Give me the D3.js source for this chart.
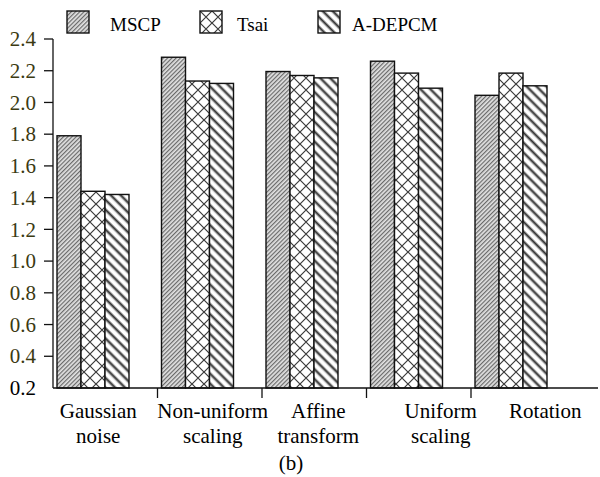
<!DOCTYPE html>
<html>
<head>
<meta charset="utf-8">
<script src="https://cdn.jsdelivr.net/npm/d3@7"></script>
<style>
  body { margin: 0; background: #fff; }
</style>
</head>
<body>
<div id="chart"></div>
<script>
  // data:
  var categories = ["Gaussian noise", "Non-uniform scaling", "Affine transform", "Uniform scaling", "Rotation"];
  var categoryLines = [["Gaussian", "noise"], ["Non-uniform", "scaling"], ["Affine", "transform"], ["Uniform", "scaling"], ["Rotation"]];
  var seriesNames = ["MSCP", "Tsai", "A-DEPCM"];
  var mscp = [1.79, 2.285, 2.195, 2.26, 2.045];
  var tsai = [1.44, 2.135, 2.17, 2.185, 2.185];
  var adepcm = [1.42, 2.12, 2.155, 2.09, 2.105];
  var yTicks = [0.2, 0.4, 0.6, 0.8, 1.0, 1.2, 1.4, 1.6, 1.8, 2.0, 2.2, 2.4];
  var caption = "(b)";

  // layout:
  var width = 600, height = 477;
  var axisLeft = 53, axisRight = 598, axisTop = 39, axisBottom = 388;
  var bandLeft = 53, bandRight = 575.5;
  var groupOffset = 4, barWidth = 24;
  var labelShift = [-7, 3, 4, 22, 22]; // text nudges of the category labels
  var legendX = [67, 200, 318];
  var tickColor = "#3b3a12";
  var serif = "'Liberation Serif', 'Times New Roman', Times, serif";

  var values = [mscp, tsai, adepcm];
  var patternIds = ["pat-mscp", "pat-tsai", "pat-adepcm"];

  var svg = d3.select("#chart").append("svg")
    .attr("width", width)
    .attr("height", height)
    .attr("font-family", serif);

  // fill patterns:
  var defs = svg.append("defs");
  var p1 = defs.append("pattern")
    .attr("id", "pat-mscp")
    .attr("patternUnits", "userSpaceOnUse")
    .attr("width", 3).attr("height", 10)
    .attr("patternTransform", "rotate(45)");
  p1.append("rect").attr("width", 3).attr("height", 10).attr("fill", "#e2e2e2");
  p1.append("rect").attr("width", 1.2).attr("height", 10).attr("fill", "#6a6a6a");

  var p2 = defs.append("pattern")
    .attr("id", "pat-tsai")
    .attr("patternUnits", "userSpaceOnUse")
    .attr("width", 12).attr("height", 12);
  p2.append("rect").attr("width", 12).attr("height", 12).attr("fill", "#fff");
  p2.append("path")
    .attr("d", "M0,0L12,12M12,0L0,12")
    .attr("stroke", "#3a3a3a").attr("stroke-width", 1.2);

  var p3 = defs.append("pattern")
    .attr("id", "pat-adepcm")
    .attr("patternUnits", "userSpaceOnUse")
    .attr("width", 7).attr("height", 10)
    .attr("patternTransform", "rotate(-45)");
  p3.append("rect").attr("width", 7).attr("height", 10).attr("fill", "#fff");
  p3.append("rect").attr("x", 1.6).attr("width", 3.4).attr("height", 10).attr("fill", "#b0b0b0");
  p3.append("rect").attr("x", 2.5).attr("width", 1.6).attr("height", 10).attr("fill", "#333");

  // scales:
  var y = d3.scaleLinear().domain([0.2, 2.4]).range([axisBottom, axisTop]);
  var x0 = d3.scaleBand().domain(categories).range([bandLeft, bandRight]);
  var x1 = d3.scaleBand().domain(seriesNames).range([0, barWidth * seriesNames.length]);

  // bars:
  seriesNames.forEach(function (s, si) {
    svg.append("g")
      .selectAll("rect")
      .data(categories)
      .join("rect")
      .attr("x", function (c) { return x0(c) + groupOffset + x1(s); })
      .attr("y", function (c, i) { return y(values[si][i]); })
      .attr("width", x1.bandwidth())
      .attr("height", function (c, i) { return y(0.2) - y(values[si][i]); })
      .attr("fill", "url(#" + patternIds[si] + ")")
      .attr("stroke", "#111")
      .attr("stroke-width", 1.4);
  });

  // y axis:
  var yAxisG = svg.append("g").attr("transform", "translate(" + axisLeft + ",0)");
  yAxisG.append("line")
    .attr("x1", 0).attr("x2", 0)
    .attr("y1", y(2.4)).attr("y2", y(0.2))
    .attr("stroke", "#111").attr("stroke-width", 1.3);
  var yt = yAxisG.selectAll("g.tick").data(yTicks).join("g")
    .attr("class", "tick")
    .attr("transform", function (d) { return "translate(0," + y(d) + ")"; });
  yt.filter(function (d) { return d > 0.2; }).append("line")
    .attr("x1", -9).attr("x2", 0)
    .attr("stroke", "#111").attr("stroke-width", 1.3);
  yt.append("text")
    .attr("x", -17)
    .attr("dy", "0.34em")
    .attr("text-anchor", "end")
    .attr("font-family", serif)
    .attr("font-size", 21)
    .attr("fill", function (d) { return d > 0.2 ? tickColor : "#000"; })
    .text(d3.format(".1f"));

  // x axis:
  var xAxisG = svg.append("g").attr("transform", "translate(0," + axisBottom + ")");
  xAxisG.append("line")
    .attr("x1", axisLeft).attr("x2", axisRight)
    .attr("stroke", "#111").attr("stroke-width", 1.3);
  xAxisG.selectAll("line.sep")
    .data(categories.slice(1))
    .join("line")
    .attr("class", "sep")
    .attr("x1", function (c) { return x0(c); })
    .attr("x2", function (c) { return x0(c); })
    .attr("y1", 0).attr("y2", 10)
    .attr("stroke", "#111").attr("stroke-width", 1.3);
  var xl = xAxisG.selectAll("text.cat")
    .data(categories)
    .join("text")
    .attr("class", "cat")
    .attr("text-anchor", "middle")
    .attr("font-family", serif)
    .attr("font-size", 21)
    .attr("fill", "#000")
    .attr("x", function (c, i) { return x0(c) + x0.bandwidth() / 2 + labelShift[i]; })
    .attr("y", 30);
  xl.selectAll("tspan")
    .data(function (c, i) { return categoryLines[i]; })
    .join("tspan")
    .attr("x", function () { return d3.select(this.parentNode).attr("x"); })
    .attr("dy", function (d, i) { return i === 0 ? 0 : 25; })
    .text(function (d) { return d; });

  // caption:
  svg.append("text")
    .attr("x", 291)
    .attr("y", 470)
    .attr("text-anchor", "middle")
    .attr("font-family", serif)
    .attr("font-size", 21)
    .text(caption);

  // legend:
  var legendG = svg.append("g");
  seriesNames.forEach(function (s, si) {
    var itemG = legendG.append("g").attr("transform", "translate(" + legendX[si] + ",11)");
    itemG.append("rect")
      .attr("width", 22).attr("height", 22)
      .attr("fill", "url(#" + patternIds[si] + ")")
      .attr("stroke", "#111").attr("stroke-width", 1.4);
    itemG.append("text")
      .attr("x", 22 + [21, 15, 12][si])
      .attr("y", 20)
      .attr("font-family", serif)
      .attr("font-size", 19)
      .text(s);
  });
</script>
</body>
</html>
